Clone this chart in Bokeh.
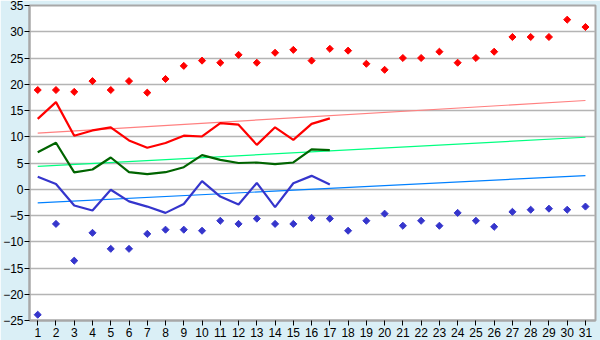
import math
from bokeh.plotting import figure
from bokeh.models import FixedTicker, Range1d
from bokeh.embed import file_html
from bokeh.resources import INLINE

days = list(range(1, 32))
line_days = list(range(1, 18))

max_points = [18.9, 18.9, 18.55, 20.6, 18.9, 20.6, 18.4, 21.0, 23.5, 24.5,
              24.1, 25.6, 24.1, 26.0, 26.55, 24.5, 26.75, 26.4, 23.9, 22.75,
              25.0, 25.0, 26.2, 24.1, 25.0, 26.2, 29.0, 29.0, 29.0, 32.3, 30.9]
min_points = [-23.9, -6.6, -13.6, -8.3, -11.35, -11.35, -8.5, -7.7, -7.7, -7.9,
              -6.0, -6.6, -5.6, -6.6, -6.6, -5.45, -5.6, -7.9, -6.0, -4.65,
              -6.95, -6.0, -6.95, -4.5, -6.0, -7.15, -4.3, -3.9, -3.7, -3.9, -3.3]
max_line = [13.4, 16.6, 10.2, 11.2, 11.8, 9.3, 7.9, 8.8, 10.2, 10.05,
            12.6, 12.3, 8.45, 11.8, 9.4, 12.45, 13.5]
mean_line = [7.05, 8.85, 3.2, 3.76, 6.05, 3.25, 2.88, 3.25, 4.2, 6.5,
             5.6, 5.0, 5.1, 4.8, 5.1, 7.6, 7.45]
min_line = [2.4, 1.0, -3.1, -4.05, -0.1, -2.3, -3.3, -4.5, -2.8, 1.55,
            -1.4, -2.9, 1.2, -3.4, 1.15, 2.55, 0.9]
trend_days = [1, 31]
max_trend = [10.7, 16.9]
mean_trend = [4.35, 9.9]
min_trend = [-2.6, 2.6]
y_ticks = list(range(-25, 40, 5))

p = figure(width=600, height=340, output_backend="svg", toolbar_location=None,
           x_range=Range1d(0.55, 31.55), y_range=Range1d(-25, 35),
           min_border_left=27, min_border_right=5, min_border_top=5, min_border_bottom=20,
           background_fill_color="white", border_fill_color="#DAEFF6")
p.outline_line_color = "#A8A8A8"
p.outline_line_width = 2

p.xgrid.grid_line_color = None
p.ygrid.grid_line_color = "#B4B4B4"
p.ygrid.grid_line_width = 1.5
p.ygrid.ticker = FixedTicker(ticks=y_ticks)

p.xaxis.ticker = FixedTicker(ticks=days)
p.yaxis.ticker = FixedTicker(ticks=y_ticks)
for ax in (p.xaxis, p.yaxis):
    ax.axis_line_color = "#A8A8A8"
    ax.axis_line_width = 2
    ax.major_tick_line_color = "black"
    ax.major_tick_out = 5
    ax.major_tick_in = 0
    ax.minor_tick_line_color = None
    ax.major_label_text_font = "Liberation Sans"
    ax.major_label_text_font_size = "12px"
    ax.major_label_text_color = "black"
p.yaxis.major_label_standoff = 1
p.xaxis.major_label_standoff = 2

p.line(trend_days, max_trend, color="#FF8080", line_width=1.2)
p.line(trend_days, mean_trend, color="#00FF80", line_width=1.2)
p.line(trend_days, min_trend, color="#0080FF", line_width=1.2)

p.line(line_days, max_line, color="#FF0000", line_width=2.2)
p.line(line_days, mean_line, color="#006400", line_width=2.2)
p.line(line_days, min_line, color="#3535CC", line_width=2.2)

p.scatter(days, max_points, marker="square", size=5, angle=math.pi / 4, color="#FF0000")
p.scatter(days, min_points, marker="square", size=5, angle=math.pi / 4, color="#3535CC")

open("out.html", "w").write(file_html(p, INLINE))
